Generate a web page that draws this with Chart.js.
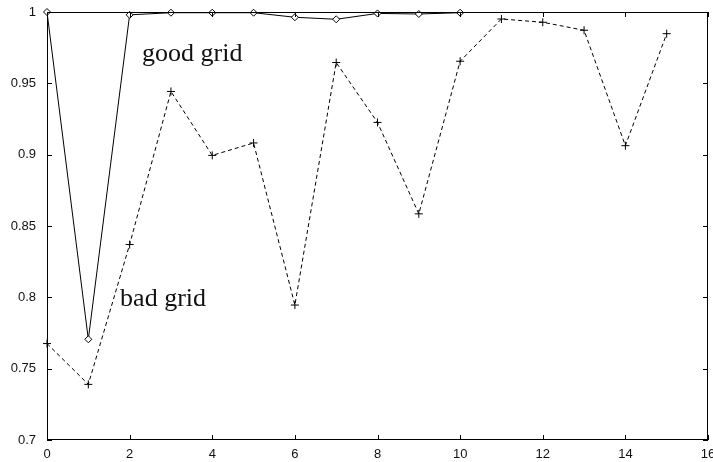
<!DOCTYPE html>
<html>
<head>
<meta charset="utf-8">
<script src="https://cdn.jsdelivr.net/npm/chart.js@4/dist/chart.umd.min.js"></script>
<style>
  html, body { margin: 0; padding: 0; background: #fff; }
  #wrap { width: 713px; height: 462px; }
</style>
</head>
<body>
<div id="wrap"><canvas id="chart"></canvas></div>
<script>
// values
const goodX = [0, 1, 2, 3, 4, 5, 6, 7, 8, 9, 10];
const goodY = [1.0, 0.7706, 0.998, 0.9995, 0.9995, 0.9995, 0.9963, 0.9949, 0.999, 0.9986, 0.9995];

const badX = [0, 1, 2, 3, 4, 5, 6, 7, 8, 9, 10, 11, 12, 13, 14, 15];
const badY = [0.7676, 0.739, 0.837, 0.9443, 0.8995, 0.9082, 0.7946, 0.9646, 0.9226, 0.8585,
              0.9655, 0.9951, 0.9928, 0.9872, 0.9063, 0.9848];

const xTicks = [0, 2, 4, 6, 8, 10, 12, 14, 16];
const yTicks = [0.7, 0.75, 0.8, 0.85, 0.9, 0.95, 1];

const noteText = ['good grid', 'bad grid'];
const noteX = [2.30, 1.77];
const noteY = [0.9657, 0.7937];

const toPoints = (xs, ys) => xs.map((x, i) => ({ x: x, y: ys[i] }));

// frame, inward ticks on all four sides, and the text notes
const framePlugin = {
    id: 'frame',
    afterDraw(chart) {
        const ctx = chart.ctx;
        const a = chart.chartArea;
        const xs = chart.scales.x;
        const ys = chart.scales.y;
        const len = 5;
        ctx.save();
        ctx.strokeStyle = '#000';
        ctx.lineWidth = 1;
        ctx.strokeRect(a.left + 0.5, a.top + 0.5, a.right - a.left - 1, a.bottom - a.top - 1);
        ctx.beginPath();
        xTicks.forEach(v => {
            const px = Math.round(xs.getPixelForValue(v)) + 0.5;
            ctx.moveTo(px, a.bottom); ctx.lineTo(px, a.bottom - len);
            ctx.moveTo(px, a.top); ctx.lineTo(px, a.top + len);
        });
        yTicks.forEach(v => {
            const py = Math.round(ys.getPixelForValue(v)) + 0.5;
            ctx.moveTo(a.left, py); ctx.lineTo(a.left + len, py);
            ctx.moveTo(a.right, py); ctx.lineTo(a.right - len, py);
        });
        ctx.stroke();

        ctx.fillStyle = '#111';
        ctx.font = '26px "Liberation Serif", serif';
        ctx.textAlign = 'left';
        ctx.textBaseline = 'alphabetic';
        noteText.forEach((t, i) => {
            ctx.fillText(t, xs.getPixelForValue(noteX[i]), ys.getPixelForValue(noteY[i]));
        });
        ctx.restore();
    }
};

new Chart(document.getElementById('chart'), {
    type: 'scatter',
    data: {
        datasets: [
            {
                label: 'good grid',
                data: toPoints(goodX, goodY),
                showLine: true,
                clip: false,
                borderColor: '#000',
                backgroundColor: 'rgba(0,0,0,0)',
                borderWidth: 1,
                pointStyle: 'rectRot',
                pointRadius: 3.5,
                pointBorderWidth: 1,
                pointBorderColor: '#000',
                pointBackgroundColor: '#fff'
            },
            {
                label: 'bad grid',
                data: toPoints(badX, badY),
                showLine: true,
                clip: false,
                borderColor: '#000',
                backgroundColor: 'rgba(0,0,0,0)',
                borderWidth: 1,
                borderDash: [4, 3],
                pointStyle: 'cross',
                pointRadius: 4,
                pointBorderWidth: 1,
                pointBorderColor: '#000'
            }
        ]
    },
    options: {
        responsive: true,
        maintainAspectRatio: false,
        animation: false,
        layout: { padding: { top: 12, right: 5, left: 0, bottom: 0 } },
        plugins: {
            legend: { display: false },
            tooltip: { enabled: false }
        },
        scales: {
            x: {
                type: 'linear',
                min: 0,
                max: 16,
                grid: { display: false, drawTicks: false },
                border: { display: false },
                afterBuildTicks: (scale) => { scale.ticks = xTicks.map(v => ({ value: v })); },
                afterFit: (scale) => { scale.height = 22; scale.paddingLeft = 0; scale.paddingRight = 0; },
                ticks: {
                    color: '#111',
                    padding: 7,
                    maxRotation: 0,
                    autoSkip: false,
                    font: { family: '"Liberation Sans", Arial, sans-serif', size: 13 },
                    callback: (v) => String(v)
                }
            },
            y: {
                type: 'linear',
                min: 0.7,
                max: 1,
                grid: { display: false, drawTicks: false },
                border: { display: false },
                afterBuildTicks: (scale) => { scale.ticks = yTicks.map(v => ({ value: v })); },
                afterFit: (scale) => { scale.width = 47; scale.paddingTop = 0; scale.paddingBottom = 0; },
                ticks: {
                    color: '#111',
                    padding: 11,
                    autoSkip: false,
                    font: { family: '"Liberation Sans", Arial, sans-serif', size: 13 },
                    callback: (v) => String(parseFloat(Number(v).toFixed(2)))
                }
            }
        }
    },
    plugins: [framePlugin]
});
</script>
</body>
</html>
